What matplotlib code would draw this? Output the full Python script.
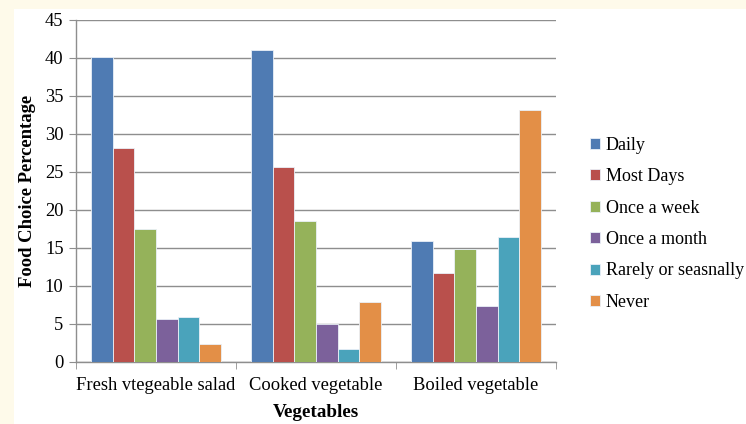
import matplotlib
matplotlib.use("Agg")
import matplotlib.pyplot as plt
from matplotlib.patches import Rectangle
import numpy as np

categories = ["Fresh vtegeable salad", "Cooked vegetable", "Boiled vegetable"]
series_names = ["Daily", "Most Days", "Once a week", "Once a month",
                "Rarely or seasnally", "Never"]
daily = [40.1, 41.0, 15.9]
most_days = [28.2, 25.7, 11.7]
once_a_week = [17.5, 18.5, 14.9]
once_a_month = [5.7, 5.0, 7.4]
rarely = [5.9, 1.7, 16.4]
never = [2.4, 7.9, 33.2]
series_values = [daily, most_days, once_a_week, once_a_month, rarely, never]
colors = ["#4F7BB3", "#B9504C", "#95B25A", "#7C619B", "#4AA3BB", "#E38F47"]

W, H, DPI = 746, 424, 100
fig = plt.figure(figsize=(W / DPI, H / DPI), dpi=DPI, facecolor="#FEFAEA")
# white chart panel behind everything
fig.patches.append(Rectangle((14 / W, 0), 1 - 14 / W, 1 - 9 / H,
                             transform=fig.transFigure, facecolor="white",
                             edgecolor="none", zorder=-10))

ax = fig.add_axes([76 / W, 1 - 362 / H, 480 / W, (362 - 20) / H])
ax.set_facecolor("white")

serif = ["Liberation Serif", "DejaVu Serif"]
fs = 13.3
n = len(series_values)
group_w = 0.8125
bw = group_w / n
x = np.arange(len(categories))
for i, (name, vals, c) in enumerate(zip(series_names, series_values, colors)):
    offs = -group_w / 2 + bw * (i + 0.5)
    ax.bar(x + offs, vals, width=bw, color=c, edgecolor="#EAF0F8",
           linewidth=0.6, label=name, zorder=3)

ax.set_xlim(-0.5, len(categories) - 0.5)
ax.set_ylim(0, 45)
ax.set_yticks(np.arange(0, 46, 5))
ax.yaxis.grid(True, color="#8E8E8E", linewidth=1.0, zorder=0)
ax.set_axisbelow(True)
for s in ["top", "right"]:
    ax.spines[s].set_visible(False)
for s in ["left", "bottom"]:
    ax.spines[s].set_color("#8E8E8E")
    ax.spines[s].set_linewidth(1.0)

# category labels centred, tick marks at group boundaries
ax.set_xticks(x)
ax.set_xticklabels(categories, fontfamily=serif, fontsize=fs)
ax.tick_params(axis="x", length=0, pad=11)
ax.set_xticks(np.arange(-0.5, len(categories) + 0.5, 1), minor=True)
ax.tick_params(axis="x", which="minor", length=5, color="#8E8E8E", direction="out")
ax.tick_params(axis="y", length=5, color="#8E8E8E", labelsize=fs, pad=4)
for lbl in ax.get_yticklabels():
    lbl.set_fontfamily(serif)

ax.set_xlabel("Vegetables", fontfamily=serif, fontsize=13.8, fontweight="bold",
              labelpad=7)
ax.set_ylabel("Food Choice Percentage", fontfamily=serif, fontsize=13.4,
              fontweight="bold", labelpad=6)

leg = ax.legend(loc="center left", bbox_to_anchor=(1.038, 0.404), frameon=False,
                prop={"family": serif, "size": 13.0}, handlelength=0.55,
                handleheight=0.55, handletextpad=0.3, labelspacing=0.8)

fig.savefig("out.png", dpi=DPI, facecolor=fig.get_facecolor())
